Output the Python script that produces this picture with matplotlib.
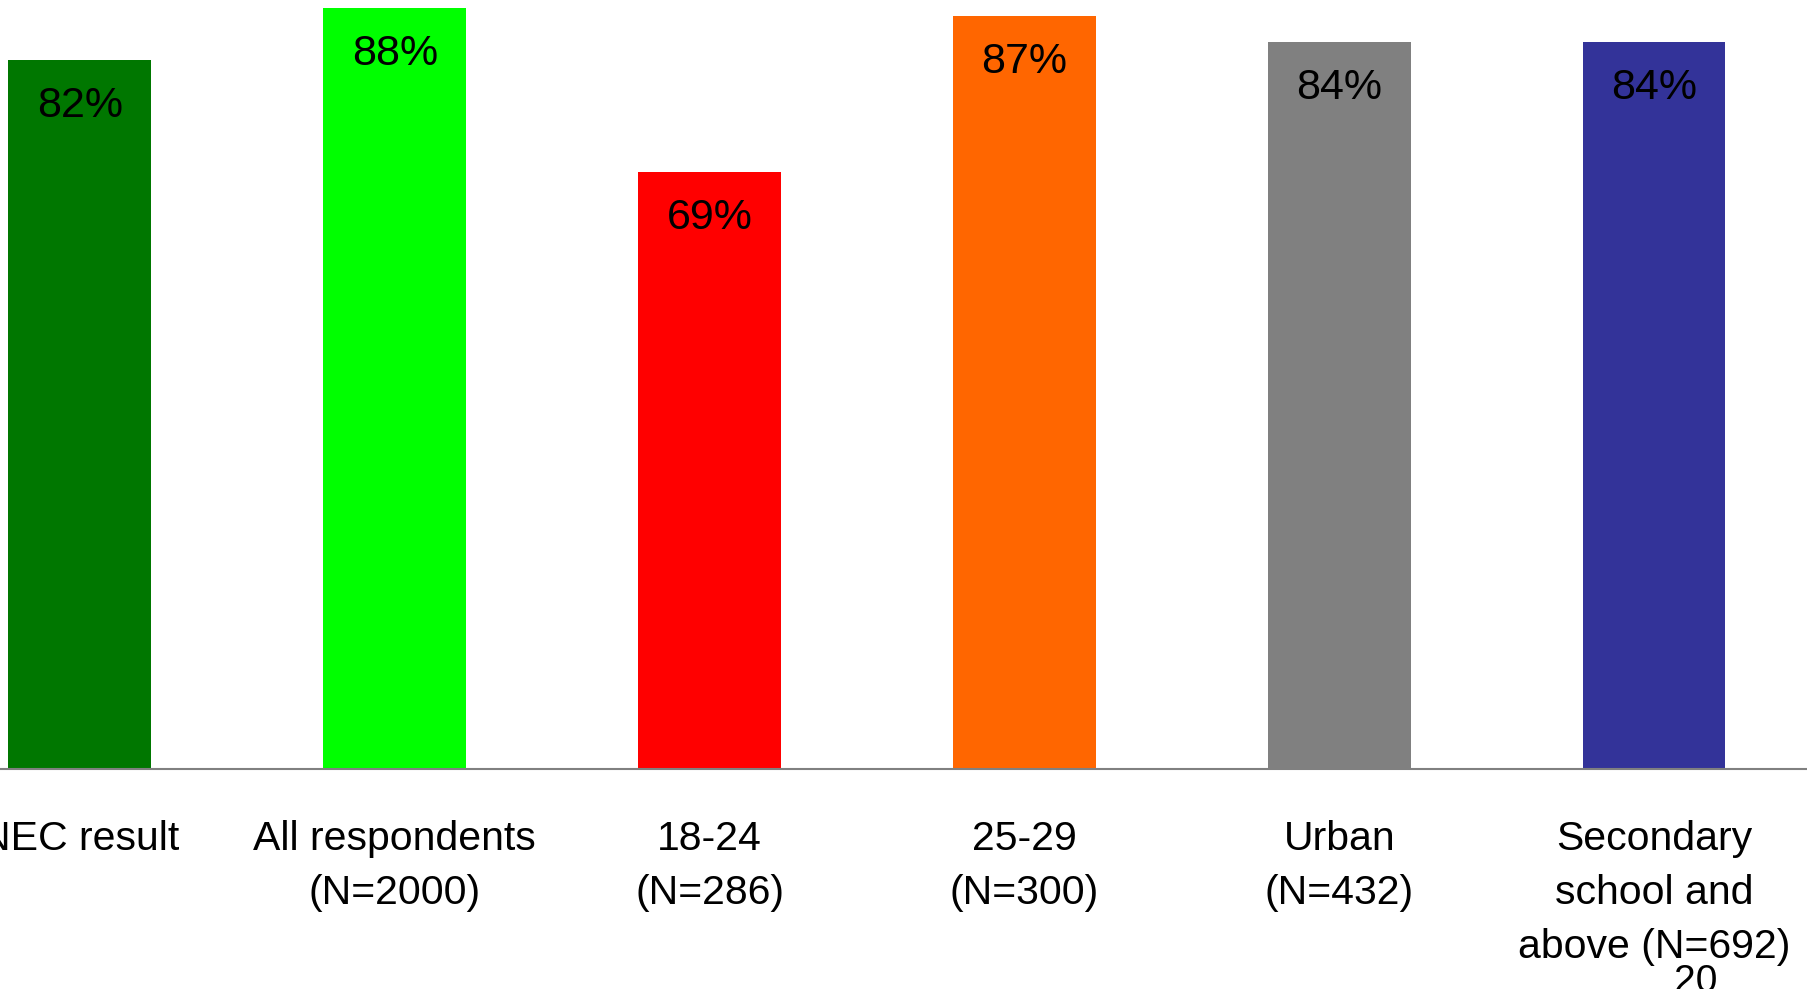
import matplotlib
matplotlib.use("Agg")
import matplotlib.pyplot as plt

# Share of respondents per group
categories = ["NEC result", "All respondents\n(N=2000)", "18-24\n(N=286)",
              "25-29\n(N=300)", "Urban\n(N=432)", "Secondary\nschool and\nabove (N=692)"]
values = [82, 88, 69, 87, 84, 84]
bar_colors = ["#007700", "#00FF00", "#FF0000", "#FF6600", "#808080", "#333399"]
page_number = "20"

plt.rcParams["font.family"] = ["Liberation Sans", "DejaVu Sans"]

W, H, DPI = 1807, 989, 100
fig = plt.figure(figsize=(W / DPI, H / DPI), dpi=DPI)

# axes: baseline at 769 px from top, 100% spans 865 px
base_px = 769
full_px = 865
ax = fig.add_axes([0, (H - base_px) / H, 1, full_px / H])

x = list(range(len(categories)))
ax.bar(x, values, width=0.454, color=bar_colors, zorder=2)

ax.set_xlim(-0.254, 5.486)
ax.set_ylim(0, 100)

for xi, v in zip(x, values):
    ax.annotate(f"{v}%", xy=(xi, v), xytext=(0, -41), textcoords="offset points",
                ha="center", va="baseline", fontsize=31, color="black")

for s in ["top", "left", "right"]:
    ax.spines[s].set_visible(False)
ax.spines["bottom"].set_color("#808080")
ax.spines["bottom"].set_linewidth(1.5)

ax.set_yticks([])
ax.set_xticks(x)
ax.set_xticklabels(categories, fontsize=29.5, linespacing=1.54)
ax.tick_params(axis="x", length=0, pad=36.5)

fig.text(1696 / W, (H - 992) / H, page_number, ha="center", va="baseline", fontsize=28)

fig.savefig("out.png", dpi=DPI)
